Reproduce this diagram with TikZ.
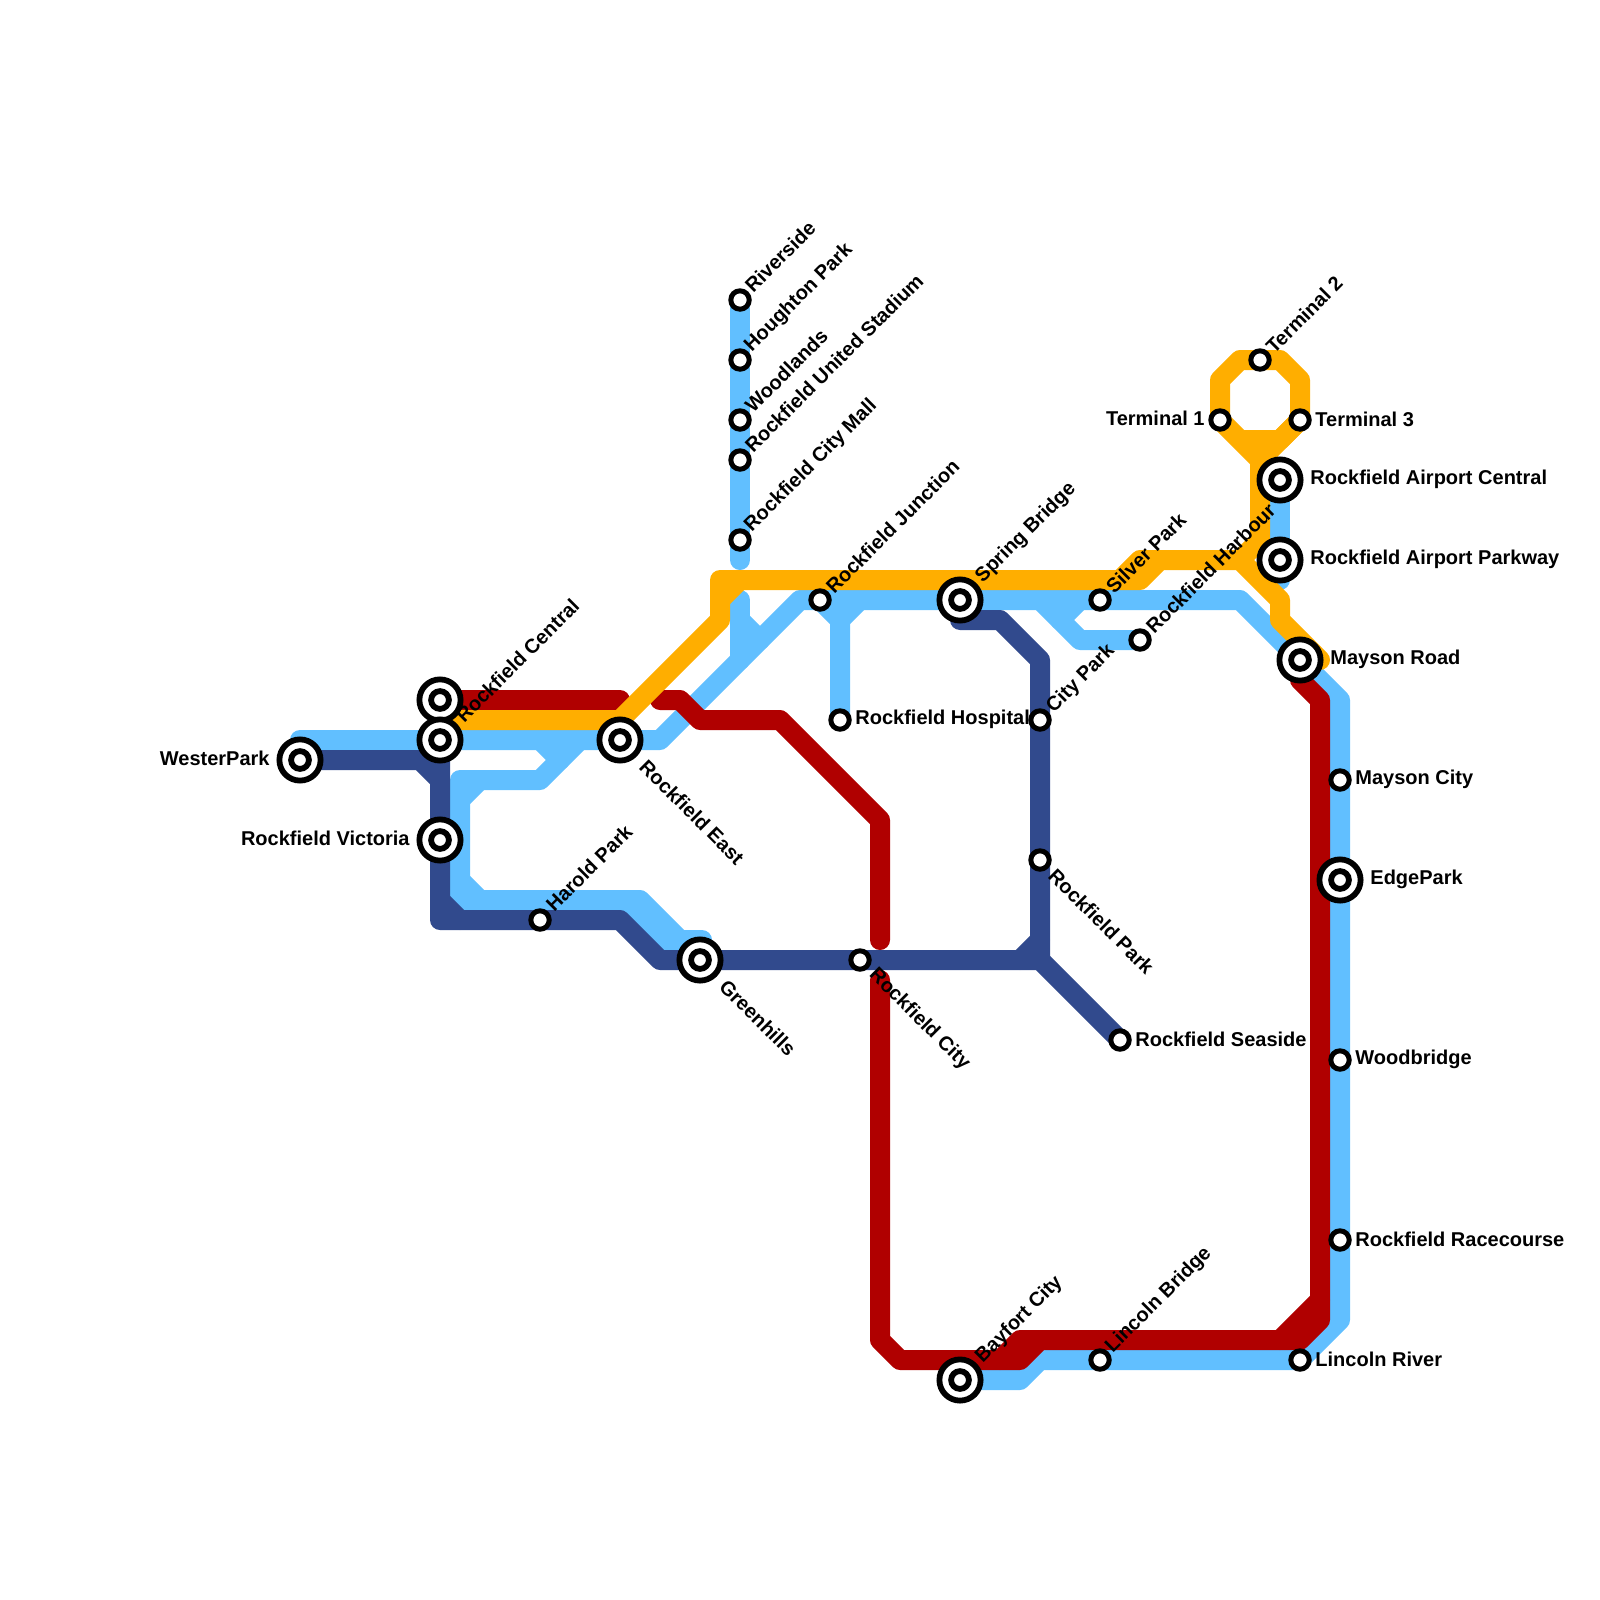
\documentclass[tikz,border=0pt]{standalone}
\usepackage{fontspec}
\setmainfont{Liberation Sans}
\usetikzlibrary{backgrounds}
\definecolor{lblue}{HTML}{61BFFF}
\definecolor{navyl}{HTML}{314A8D}
\definecolor{redl}{HTML}{B00000}
\definecolor{orangel}{HTML}{FFAE00}
\tikzset{
  route/.style={line width=10pt,line cap=round,line join=round},
  small/.style={circle,draw=black,fill=white,line width=2.5pt,minimum size=9.2pt,inner sep=0pt,outer sep=0pt},
  big/.style={circle,draw=black,fill=white,line width=2.9pt,minimum size=20.6pt,inner sep=0pt,outer sep=0pt,
    path picture={\draw[black,fill=white,line width=2.9pt] (path picture bounding box.center) circle (4.45pt);}},
  txt/.style={font=\bfseries\fontsize{10}{12}\selectfont,inner sep=0pt,text=black},
  tr/.style={txt,anchor=west},
  tl/.style={txt,anchor=east},
  up/.style={txt,anchor=west,rotate=45},
  dn/.style={txt,anchor=west,rotate=-45},
}
\begin{document}
\begin{tikzpicture}[x=0.5pt,y=-0.5pt]
\useasboundingbox (0,0) rectangle (1600,1600);
% stations
\node[big] (wester) at (300,760) {};
\node[big] (central) at (440,700) {};
\node[big] (central2) at (440,740) {};
\node[big] (victoria) at (440,840) {};
\node[small] (harold) at (540,920) {};
\node[big] (east) at (620,740) {};
\node[big] (green) at (700,960) {};
\node[small] (river) at (740,300) {};
\node[small] (hought) at (740,360) {};
\node[small] (wood) at (740,420) {};
\node[small] (united) at (740,460) {};
\node[small] (mall) at (740,540) {};
\node[small] (junction) at (820,600) {};
\node[small] (hospital) at (840,720) {};
\node[big] (spring) at (960,600) {};
\node[small] (silver) at (1100,600) {};
\node[small] (harbour) at (1140,640) {};
\node[small] (citypark) at (1040,720) {};
\node[small] (rpark) at (1040,860) {};
\node[small] (rcity) at (860,960) {};
\node[small] (seaside) at (1120,1040) {};
\node[small] (tone) at (1220,420) {};
\node[small] (ttwo) at (1260,360) {};
\node[small] (tthree) at (1300,420) {};
\node[big] (apc) at (1280,480) {};
\node[big] (app) at (1280,560) {};
\node[big] (mroad) at (1300,660) {};
\node[small] (mcity) at (1340,780) {};
\node[big] (edge) at (1340,880) {};
\node[small] (woodb) at (1340,1060) {};
\node[small] (race) at (1340,1240) {};
\node[small] (lriver) at (1300,1360) {};
\node[small] (lbridge) at (1100,1360) {};
\node[big] (bayfort) at (960,1380) {};
% labels
\node[tl] (lwester) at (270,758) {WesterPark};
\node[tl] (lvictoria) at (410,838) {Rockfield Victoria};
\node[up] (lcentral) at (459,719) {Rockfield Central};
\node[up] (lharold) at (549,908) {Harold Park};
\node[dn] (least) at (643,763) {Rockfield East};
\node[dn] (lgreen) at (723,983) {Greenhills};
\node[up] (lriver) at (748,289) {Riverside};
\node[up] (lhought) at (748,349) {Houghton Park};
\node[up] (lwood) at (748,409) {Woodlands};
\node[up] (lunited) at (748,449) {Rockfield United Stadium};
\node[up] (lmall) at (748,529) {Rockfield City Mall};
\node[up] (ljunction) at (829,590) {Rockfield Junction};
\node[tr] (lhospital) at (855,719) {Rockfield Hospital};
\node[up] (lspring) at (979,580) {Spring Bridge};
\node[up] (lsilver) at (1109,590) {Silver Park};
\node[up] (lharbour) at (1149,630) {Rockfield Harbour};
\node[up] (lcitypark) at (1050,710) {City Park};
\node[dn] (lrpark) at (1052,872) {Rockfield Park};
\node[dn] (lrcity) at (872,972) {Rockfield City};
\node[tr] (lseaside) at (1135,1039) {Rockfield Seaside};
\node[tl] (ltone) at (1205,418) {Terminal 1};
\node[up] (lttwo) at (1269,350) {Terminal 2};
\node[tr] (ltthree) at (1315,419) {Terminal 3};
\node[tr] (lapc) at (1310,479) {Rockfield Airport Central};
\node[tr] (lapp) at (1310,559) {Rockfield Airport Parkway};
\node[tr] (lmroad) at (1330,659) {Mayson Road};
\node[tr] (lmcity) at (1355,779) {Mayson City};
\node[tr] (ledge) at (1370,879) {EdgePark};
\node[tr] (lwoodb) at (1355,1059) {Woodbridge};
\node[tr] (lrace) at (1355,1239) {Rockfield Racecourse};
\node[tr] (llriver) at (1315,1359) {Lincoln River};
\node[up] (llbridge) at (1109,1350) {Lincoln Bridge};
\node[up] (lbayfort) at (979,1360) {Bayfort City};
% routes
\begin{scope}[on background layer]
% light blue
\draw[route,lblue] (300,740) -- (660,740) -- (800,600) -- (1240,600) -- (1340,700) -- (1340,1320) -- (1300,1360) -- (1040,1360) -- (1020,1380) -- (bayfort.center);
\draw[route,lblue] (540,740) -- (560,760);
\draw[route,lblue] (580,740) -- (540,780) -- (460,780) -- (460,900) -- (640,900) -- (680,940) -- (702,940);
\draw[route,lblue] (480,780) -- (460,800);
\draw[route,lblue] (460,880) -- (480,900);
\draw[route,lblue] (620,900) -- (660,940) -- (680,940);
\draw[route,lblue] (river.center) -- (740,560);
\draw[route,lblue] (740,600) -- (740,660);
\draw[route,lblue] (740,620) -- (760,640);
\draw[route,lblue] (820,600) -- (840,620) -- (hospital.center);
\draw[route,lblue] (860,600) -- (840,620);
\draw[route,lblue] (1040,600) -- (1080,640) -- (harbour.center);
\draw[route,lblue] (1080,600) -- (1060,620);
\draw[route,lblue] (apc.center) -- (1280,580);
% navy
\draw[route,navyl] (wester.center) -- (420,760) -- (440,780);
\draw[route,navyl] (central2.center) -- (440,920) -- (620,920) -- (660,960) -- (1040,960) -- (seaside.center);
\draw[route,navyl] (440,900) -- (460,920);
\draw[route,navyl] (1040,960) -- (1040,660) -- (1000,620) -- (960,620);
\draw[route,navyl] (1020,960) -- (1040,940);
% red
\draw[route,redl] (central.center) -- (620,700);
\draw[route,redl] (660,700) -- (680,700) -- (700,720) -- (780,720) -- (880,820) -- (880,940);
\draw[route,redl] (880,980) -- (880,1340) -- (900,1360) -- (1020,1360) -- (1040,1340) -- (1300,1340) -- (1320,1320) -- (1320,700) -- (1300,680);
\draw[route,redl] (1000,1360) -- (1020,1340) -- (1040,1340);
\draw[route,redl] (1280,1340) -- (1320,1300);
% orange
\draw[route,orangel] (440,720) -- (620,720) -- (720,620) -- (720,580) -- (1140,580) -- (1160,560) -- (1240,560) -- (1280,600) -- (1280,620) -- (1320,660);
\draw[route,orangel] (740,580) -- (720,600);
\draw[route,orangel] (1120,580) -- (1140,560) -- (1160,560);
\draw[route,orangel] (1220,420) -- (1220,380) -- (1240,360) -- (1280,360) -- (1300,380) -- (1300,420) -- (1280,440) -- (1240,440) -- (1220,420) -- (1260,460) -- (1260,540) -- (1240,560);
\draw[route,orangel] (1300,420) -- (1260,460);
\end{scope}
\end{tikzpicture}
\end{document}
